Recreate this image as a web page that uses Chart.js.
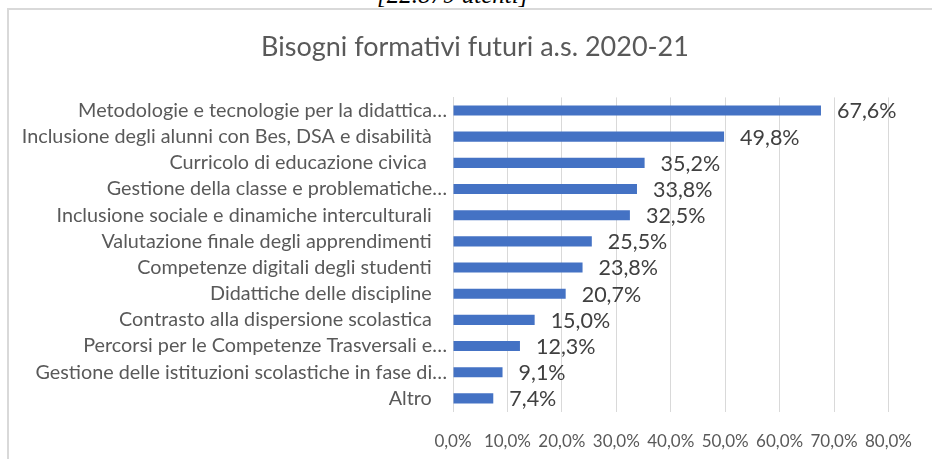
<!DOCTYPE html>
<html>
<head>
<meta charset="utf-8">
<script src="https://cdn.jsdelivr.net/npm/chart.js@4"></script>
<style>
  html, body { margin: 0; padding: 0; background: #fff; overflow: hidden; }
  #wrap { position: relative; width: 932px; height: 459px; overflow: hidden; }
  #frame { position: absolute; left: 7px; top: 8px; width: 940px; height: 470px;
           border-top: 2px solid #d9d9d9; border-left: 2px solid #d9d9d9; }
  #cut { position: absolute; left: 377px; top: -15px; font: italic 25px "Liberation Serif", serif;
         line-height: 20px; color: #000; white-space: nowrap; }
  canvas { position: absolute; left: 0; top: 0; }
</style>
</head>
<body>
<div id="wrap">
  <div id="cut">[22.879 utenti]</div>
  <div id="frame"></div>
  <canvas id="myChart" width="932" height="459"></canvas>
</div>
<script>
// data
const categories = [
  'Metodologie e tecnologie per la didattica…',
  'Inclusione degli alunni con Bes, DSA e disabilità',
  'Curricolo di educazione civica ',
  'Gestione della classe e problematiche…',
  'Inclusione sociale e dinamiche interculturali',
  'Valutazione finale degli apprendimenti',
  'Competenze digitali degli studenti',
  'Didattiche delle discipline',
  'Contrasto alla dispersione scolastica',
  'Percorsi per le Competenze Trasversali e…',
  'Gestione delle istituzioni scolastiche in fase di…',
  'Altro'
]
const percentages = [67.6, 49.8, 35.2, 33.8, 32.5, 25.5, 23.8, 20.7, 15.0, 12.3, 9.1, 7.4]
const xTicks = [0, 10, 20, 30, 40, 50, 60, 70, 80]

const fmt = (v) => v.toFixed(1).replace('.', ',') + '%'

// value labels at the end of each bar
const valueLabels = {
  id: 'valueLabels',
  afterDatasetsDraw(chart) {
    const c = chart.ctx
    const meta = chart.getDatasetMeta(0)
    c.save()
    c.font = '21.5px Lato'
    c.fillStyle = '#404040'
    c.textAlign = 'left'
    c.textBaseline = 'middle'
    meta.data.forEach((bar, i) => {
      c.fillText(fmt(percentages[i]), bar.x + 16, bar.y + 1)
    })
    c.restore()
  }
}

const ctx = document.getElementById('myChart').getContext('2d')

var chart = new Chart(ctx, {
  type: 'bar',
  data: {
    labels: categories,
    datasets: [{
      data: percentages,
      backgroundColor: '#4472c4',
      categoryPercentage: 1,
      barPercentage: 0.385
    }]
  },
  options: {
    indexAxis: 'y',
    responsive: false,
    animation: false,
    layout: { padding: { left: 18, right: 0, top: 0, bottom: 0 } },
    plugins: {
      legend: { display: false },
      tooltip: { enabled: false },
      title: {
        display: true,
        text: 'Bisogni formativi futuri a.s. 2020-21',
        color: '#595959',
        font: { family: 'Lato', size: 27, weight: 'normal' },
        padding: { top: 31, bottom: 34 }
      }
    },
    scales: {
      x: {
        min: 0,
        max: 80,
        afterBuildTicks: (scale) => { scale.ticks = xTicks.map(v => ({ value: v })) },
        afterFit: (scale) => { scale.height = 47.5 },
        grid: { color: '#d9d9d9', drawTicks: false },
        border: { display: false },
        ticks: {
          color: '#595959',
          font: { family: 'Lato', size: 17 },
          padding: 20,
          callback: (v) => fmt(v)
        }
      },
      y: {
        afterFit: (scale) => { scale.width = 435 },
        grid: { display: false, drawTicks: false },
        border: { display: true, color: '#d9d9d9' },
        ticks: {
          autoSkip: false,
          color: '#595959',
          font: { family: 'Lato', size: 19.8 },
          padding: 6,
          callback: function (v, i) {
            const lab = categories[i]
            return lab.endsWith('…') ? lab : lab + '   '
          }
        }
      },
      // empty right-hand margin so the plot ends at 80%
      yRight: {
        type: 'category',
        position: 'right',
        afterFit: (scale) => { scale.width = 42 },
        grid: { display: false, drawTicks: false },
        border: { display: false },
        ticks: { display: false }
      }
    }
  },
  plugins: [valueLabels]
})
</script>
</body>
</html>
